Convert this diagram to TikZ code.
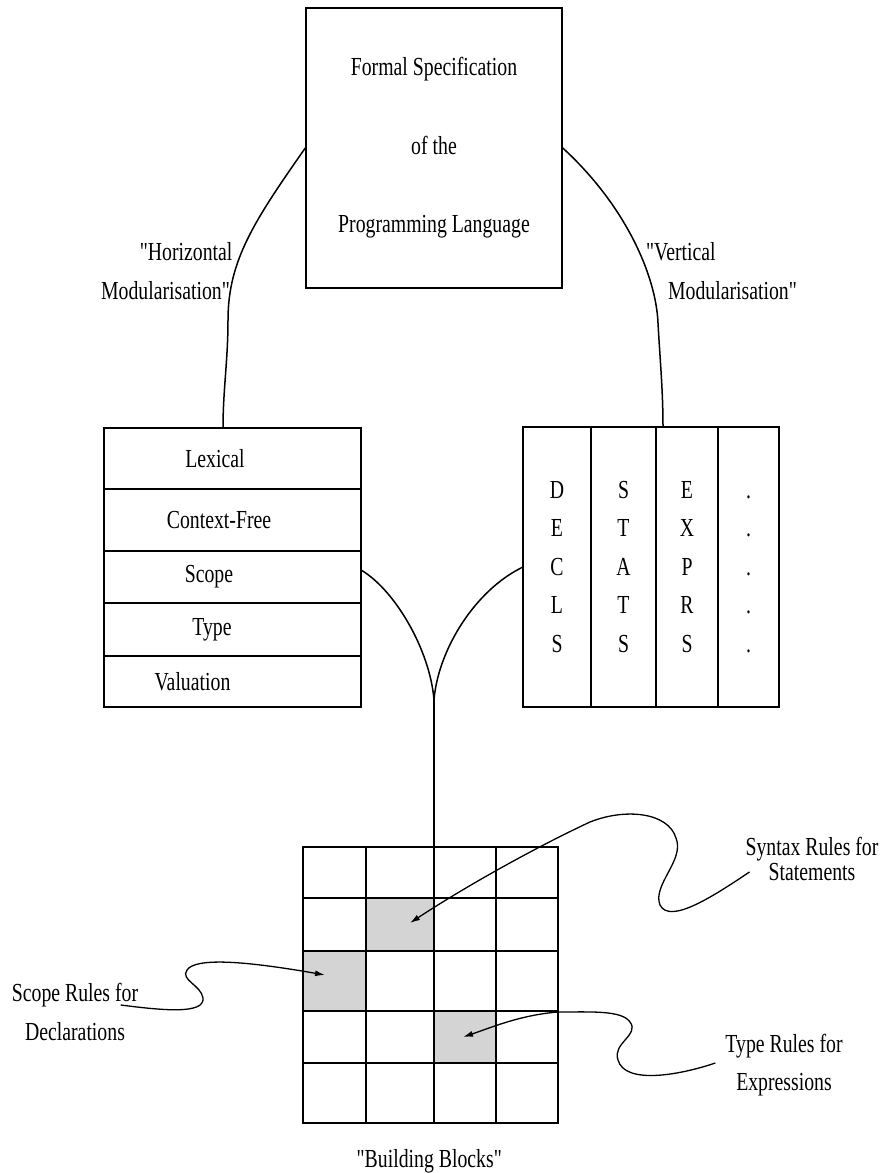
\documentclass[tikz,border=0pt]{standalone}
\usepackage{fontspec}
\setmainfont{Liberation Serif}[FakeStretch=0.76]
\usepackage{tikz}
\usetikzlibrary{arrows.meta, positioning, calc}
\newcommand\qmark{\XeTeXglyph\XeTeXcharglyph"22\relax}
\newcommand\qopen{\qmark\kern-2.5pt\relax}

\begin{document}
\begin{tikzpicture}[x=1pt, y=-1pt, line width=1.5pt, >={Latex[length=10pt,width=6pt]},
  font=\fontsize{26}{38.5}\selectfont,
  specbox/.style={draw, minimum width=256pt, minimum height=280pt, align=center, font=\fontsize{26}{78.5}\selectfont},
  layer/.style={draw, outer sep=0pt, inner sep=0pt, minimum width=257pt},
  column/.style={draw, outer sep=0pt, inner sep=0pt, minimum height=280pt, align=center},
  rulecell/.style={fill=black!17, outer sep=0pt, inner sep=0pt},
  note/.style={align=center}]
\useasboundingbox (0,0) rectangle (886,1173);

\node[specbox] (spec) at (434,148) {Formal Specification\\of the\\Programming Language};

\node[layer, minimum height=61pt] (lex) at (232.5,458.5) {Lexical\hspace*{35pt}};
\node[layer, minimum height=62pt, below=0pt of lex] (cfg) {Context-Free\hspace*{27pt}};
\node[layer, minimum height=52pt, below=0pt of cfg] (scp) {Scope\hspace*{47pt}};
\node[layer, minimum height=53pt, below=0pt of scp] (typ) {Type\hspace*{41pt}};
\node[layer, minimum height=51pt, below=0pt of typ] (val) {Valuation\hspace*{80pt}};

\node[column, minimum width=68pt] (decls) at (557,567) {D\\E\\C\\L\\S};
\node[column, minimum width=65pt, right=0pt of decls] (stats) {S\\T\\A\\T\\S};
\node[column, minimum width=62pt, right=0pt of stats] (exprs) {E\\X\\P\\R\\S};
\node[column, minimum width=61pt, right=0pt of exprs] (more) {\vphantom{D}.\\.\\.\\.\\.};

\node[anchor=east, align=right] (hlabel) at (236.5,271) {\qopen Horizontal\\Modularisation\qmark};
\node[anchor=west, align=left] (vlabel) at (642,271) {\qopen Vertical\\\hspace*{22pt}Modularisation\qmark};

\draw (spec.west) .. controls (255,220) and (228,260) .. (228,320) .. controls (228,360) and (223,390) .. ([xshift=-9.5pt]lex.north);
\draw (spec.east) .. controls (625,205) and (656,275) .. (658,323) .. controls (660,360) and (663,390) .. ([xshift=7pt]exprs.north west);

\coordinate (merge) at (434,700);
\draw ([yshift=7pt]scp.east) .. controls (395,590) and (430,650) .. (merge);
\draw (decls.west) .. controls (475,590) and (438,650) .. (merge);

% building blocks
\node[rulecell, minimum width=68pt, minimum height=53pt] (syncell) at (400,924.5) {};
\node[rulecell, minimum width=63pt, minimum height=60pt] (scpcell) at (334.5,981) {};
\node[rulecell, minimum width=62pt, minimum height=52pt] (typcell) at (465,1037) {};
\node[draw, minimum width=255pt, minimum height=276pt] (blocks) at (430.5,985) {};
\foreach \x in {366,434,496} \draw (\x,847) -- (\x,1123);
\foreach \y in {898,951,1011,1063} \draw (303,\y) -- (558,\y);
\draw (merge) -- (merge |- blocks.north);
\node[below=22pt of blocks] (bblabel) {\qopen Building Blocks\qmark};

\node[note, font=\fontsize{26}{25}\selectfont] (synnote) at (812,859) {Syntax Rules for\\Statements};
\node[note] (scpnote) at (75,1012) {Scope Rules for\\Declarations};
\node[note] (typnote) at (784,1065) {Type Rules for\\Expressions};

\coordinate (synTip) at (410,923);
\coordinate (scpTip) at (325,975);
\coordinate (typTip) at (463,1037);

\draw[->, line width=1.3pt] ([xshift=8pt, yshift=-13pt]synnote.west) .. controls (715,895) and (670,925) .. (660,905)
  .. controls (652,885) and (685,860) .. (676,838) .. controls (668,812) and (625,808) .. (590,822)
  .. controls (530,850) and (460,890) .. (synTip);
\draw[->, line width=1.3pt] ([xshift=-21.5pt, yshift=7pt]scpnote.east) .. controls (160,1010) and (205,1015) .. (203,998)
  .. controls (201,985) and (180,980) .. (187,970) .. controls (195,958) and (240,960) .. (scpTip);
\draw[->, line width=1.3pt] ([xshift=-6pt, yshift=2pt]typnote.west) .. controls (680,1075) and (625,1085) .. (618,1060)
  .. controls (612,1043) and (640,1035) .. (630,1022) .. controls (622,1010) and (590,1012) .. (558,1012)
  .. controls (520,1015) and (490,1028) .. (typTip);
\end{tikzpicture}
\end{document}
